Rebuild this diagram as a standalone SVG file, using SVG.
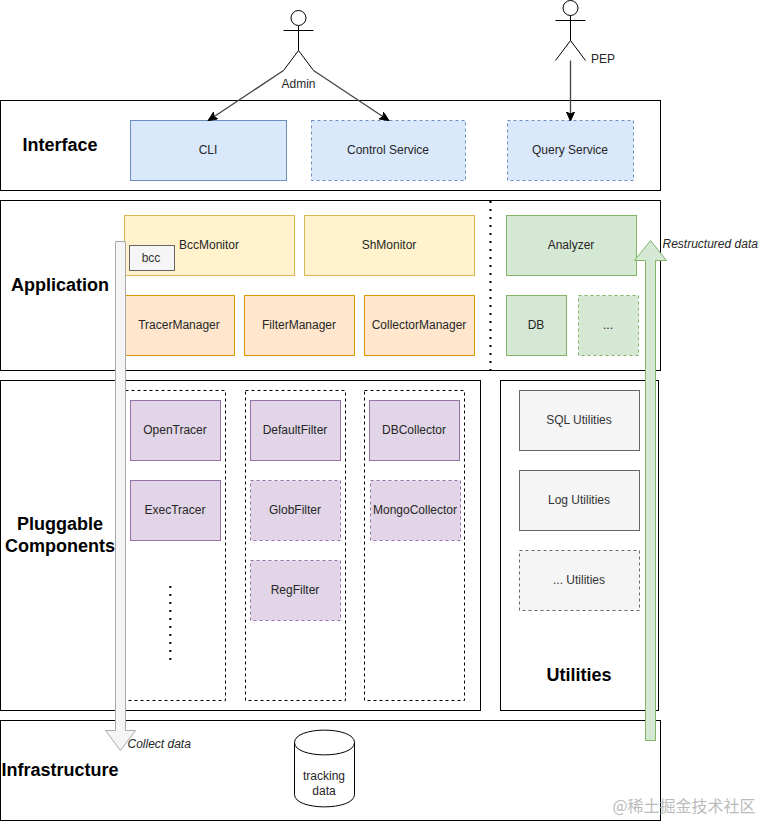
<svg xmlns="http://www.w3.org/2000/svg" width="761" height="821" viewBox="0 0 761 821">
<style>
text{font-family:"Liberation Sans",Arial,sans-serif;font-size:12px;fill:#262626;text-anchor:middle}
.h{font-weight:bold;font-size:18px;fill:#000}
.i{font-style:italic;text-anchor:start}
.layer{fill:#fff;stroke:#000;stroke-width:1}
.dash{fill:none;stroke:#000;stroke-width:1;stroke-dasharray:3 3}
.blue{fill:#dae8fc;stroke:#6c8ebf}
.yel{fill:#fff2cc;stroke:#d6b656}
.org{fill:#ffe6cc;stroke:#d79b00}
.grn{fill:#d5e8d4;stroke:#82b366}
.pur{fill:#e1d5e7;stroke:#9673a6}
.gry{fill:#f5f5f5;stroke:#666}
.d{stroke-dasharray:3 3}
.conn{fill:none;stroke:#444;stroke-width:1.300}
.actor{fill:#fff;stroke:#000;stroke-width:1}
.dots{fill:none;stroke:#000;stroke-width:2;stroke-dasharray:2 6}
</style>
<defs><marker id="a" markerWidth="10" markerHeight="10" refX="8" refY="4" orient="auto" markerUnits="userSpaceOnUse"><path d="M0 0L9 4L0 8L2 4Z" fill="#000" stroke="#000"/></marker></defs>
<rect width="761" height="821" fill="#fff"/>
<g id="layer-interface"><rect class="layer" x="0.500" y="100.500" width="660" height="90"/><text class="h" x="60" y="151">Interface</text></g>
<g id="layer-application"><rect class="layer" x="0.500" y="200.500" width="660" height="170"/><text class="h" x="60" y="291">Application</text></g>
<g id="layer-pluggable"><rect class="layer" x="0.500" y="380.500" width="480" height="330"/><text class="h" x="60" y="530">Pluggable</text><text class="h" x="60" y="552">Components</text></g>
<g id="layer-utilities"><rect class="layer" x="500.500" y="380.500" width="158" height="330"/><text class="h" x="579" y="681">Utilities</text></g>
<g id="layer-infrastructure"><rect class="layer" x="0.500" y="720.500" width="660" height="100"/><text class="h" x="60" y="776">Infrastructure</text></g>
<g id="group-tracers"><rect class="dash" x="125.500" y="390.500" width="100" height="310"/></g>
<g id="group-filters"><rect class="dash" x="245.500" y="390.500" width="100" height="310"/></g>
<g id="group-collectors"><rect class="dash" x="364.500" y="390.500" width="100" height="310"/></g>
<g id="cli"><rect class="blue" x="130.500" y="120.500" width="156" height="60"/><text x="208" y="154">CLI</text></g>
<g id="control-service"><rect class="blue d" x="311.500" y="120.500" width="154" height="60"/><text x="388" y="154">Control Service</text></g>
<g id="query-service"><rect class="blue d" x="507.500" y="120.500" width="126" height="60"/><text x="570" y="154">Query Service</text></g>
<g id="bccmonitor"><rect class="yel" x="124.500" y="215.500" width="170" height="60"/><text x="209" y="249">BccMonitor</text></g>
<g id="shmonitor"><rect class="yel" x="304.500" y="215.500" width="170" height="60"/><text x="389" y="249">ShMonitor</text></g>
<g id="tracermanager"><rect class="org" x="124.500" y="295.500" width="110" height="60"/><text x="179" y="329">TracerManager</text></g>
<g id="filtermanager"><rect class="org" x="244.500" y="295.500" width="110" height="60"/><text x="299" y="329">FilterManager</text></g>
<g id="collectormanager"><rect class="org" x="364.500" y="295.500" width="110" height="60"/><text x="419" y="329">CollectorManager</text></g>
<g id="analyzer"><rect class="grn" x="506.500" y="215.500" width="130" height="60"/><text x="571" y="249">Analyzer</text></g>
<g id="db"><rect class="grn" x="506.500" y="295.500" width="60" height="60"/><text x="536" y="329">DB</text></g>
<g id="etc"><rect class="grn d" x="578.500" y="295.500" width="60" height="60"/><text x="608" y="329">...</text></g>
<g id="opentracer"><rect class="pur" x="130.500" y="400.500" width="90" height="60"/><text x="175" y="434">OpenTracer</text></g>
<g id="exectracer"><rect class="pur" x="130.500" y="480.500" width="90" height="60"/><text x="175" y="514">ExecTracer</text></g>
<g id="defaultfilter"><rect class="pur" x="250.500" y="400.500" width="90" height="60"/><text x="295" y="434">DefaultFilter</text></g>
<g id="globfilter"><rect class="pur d" x="250.500" y="480.500" width="90" height="60"/><text x="295" y="514">GlobFilter</text></g>
<g id="regfilter"><rect class="pur d" x="250.500" y="560.500" width="90" height="60"/><text x="295" y="594">RegFilter</text></g>
<g id="dbcollector"><rect class="pur" x="369.500" y="400.500" width="90" height="60"/><text x="414" y="434">DBCollector</text></g>
<g id="mongocollector"><rect class="pur d" x="370.500" y="480.500" width="90" height="60"/><text x="415" y="514">MongoCollector</text></g>
<g id="sql-utilities"><rect class="gry" x="519.500" y="390.500" width="120" height="60"/><text x="579" y="424" style="fill:#333">SQL Utilities</text></g>
<g id="log-utilities"><rect class="gry" x="519.500" y="470.500" width="120" height="60"/><text x="579" y="504" style="fill:#333">Log Utilities</text></g>
<g id="etc-utilities"><rect class="gry d" x="519.500" y="550.500" width="120" height="60"/><text x="579" y="584" style="fill:#333">... Utilities</text></g>
<g id="tracking-data"><path d="M294.500 742.500C294.500 726 354.500 726 354.500 742.500V794.500C354.500 811 294.500 811 294.500 794.500Z" fill="#fff" stroke="#000"/><path d="M294.500 742.500C294.500 759 354.500 759 354.500 742.500" fill="none" stroke="#000"/><text x="324" y="780">tracking</text><text x="324" y="795">data</text></g>
<g id="admin"><circle class="actor" cx="298.500" cy="18" r="7.500"/><path class="actor" d="M298.500 25.500V50.500M283.500 30.500H313.500M298.500 50.500L283.500 70.500M298.500 50.500L313.500 70.500" fill="none"/><text x="298.500" y="88">Admin</text></g>
<g id="pep"><circle class="actor" cx="570.500" cy="8" r="7.500"/><path class="actor" d="M570.500 15.500V40.500M555.500 20.500H585.500M570.500 40.500L555.500 60.500M570.500 40.500L585.500 60.500" fill="none"/><text x="603" y="63">PEP</text></g>
<g id="connectors">
<path class="conn" d="M283.500 70.500L209 120" marker-end="url(#a)"/>
<path class="conn" d="M313.500 70.500L388 120" marker-end="url(#a)"/>
<path class="conn" d="M570.500 60.500V120" marker-end="url(#a)"/>
<path class="dots" d="M490.500 201V371"/>
<path class="dots" d="M170.300 586V662"/>
<path d="M115.500 241.500H125.500V730.500H135.500L120.500 750.500L105.500 730.500H115.500Z" fill="#f5f5f5" stroke="#aaa"/>
<path d="M645.500 740.500H655.500V260.500H666.500L650.500 240.500L634.500 260.500H645.500Z" fill="#d5e8d4" stroke="#82b366"/>
</g>
<g id="bcc"><rect class="gry" x="129.500" y="245.500" width="45" height="25"/><text x="151" y="262" style="fill:#333">bcc</text></g>
<text class="i" x="127.500" y="748">Collect data</text>
<text class="i" x="662.500" y="248">Restructured data</text>
<text x="684" y="812" style="font-family:'Noto Sans CJK SC',sans-serif;font-size:16px;fill:#bbb">@稀土掘金技术社区</text>
</svg>
